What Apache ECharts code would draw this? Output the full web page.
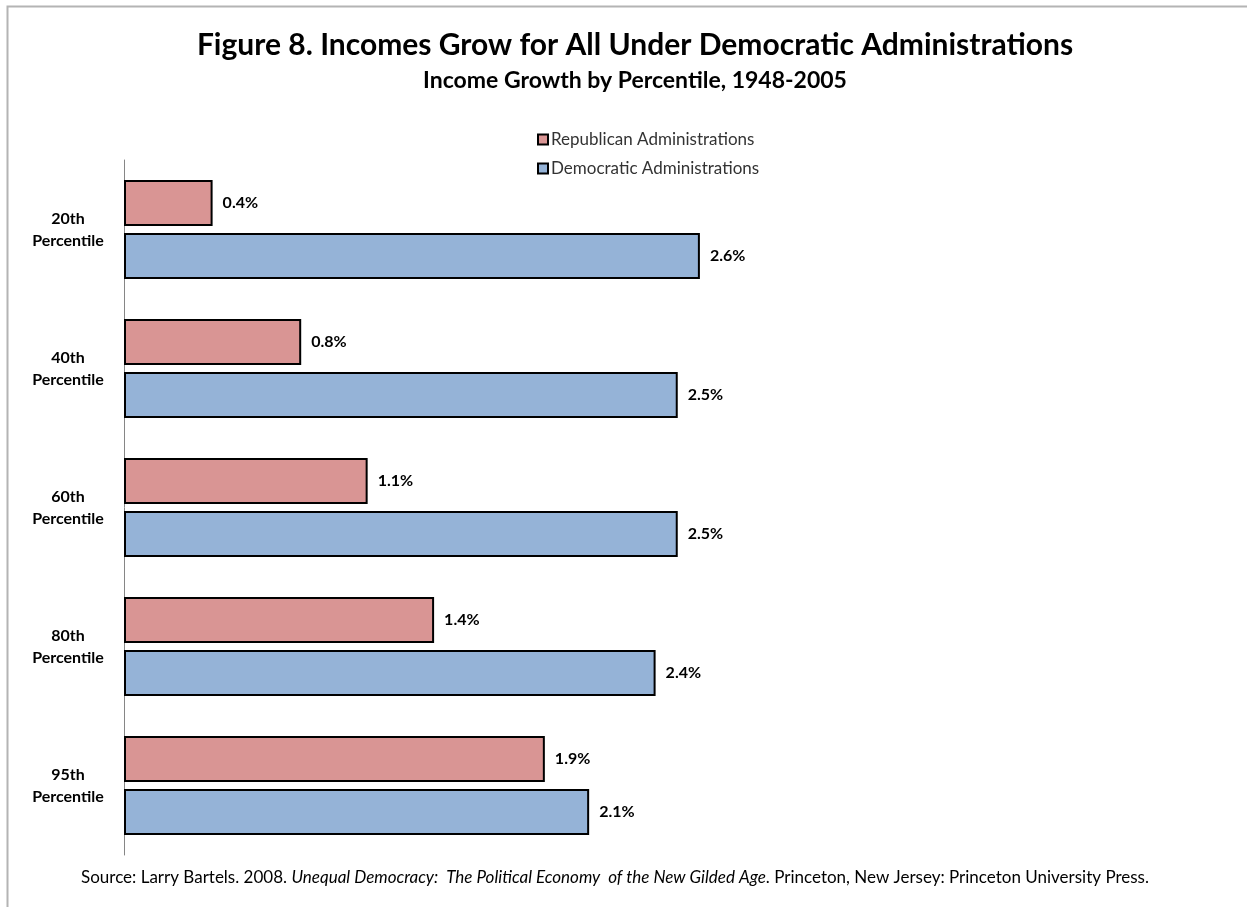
<!DOCTYPE html>
<html>
<head>
<meta charset="utf-8">
<script src="https://cdn.jsdelivr.net/npm/echarts@6/dist/echarts.min.js"></script>
<style>
html,body{margin:0;padding:0;background:#fff;}
#chart{width:1247px;height:907px;}
</style>
</head>
<body>
<div id="chart"></div>
<script>
var categories = ['20th\nPercentile', '40th\nPercentile', '60th\nPercentile', '80th\nPercentile', '95th\nPercentile'];
var republican = [0.4, 0.8, 1.1, 1.4, 1.9];
var democratic = [2.6, 2.5, 2.5, 2.4, 2.1];
var seriesNames = ['Republican Administrations', 'Democratic Administrations'];

var FONT = 'Lato, "Open Sans", sans-serif';
var chart = echarts.init(document.getElementById('chart'));

var labelOpt = {
  show: true,
  position: 'right',
  distance: 10,
  formatter: function (p) { return p.value.toFixed(1) + '%'; },
  fontFamily: FONT,
  fontWeight: 'bold',
  fontSize: 16,
  color: '#000'
};

chart.setOption({
  backgroundColor: '#fff',
  animation: false,
  title: [
    {
      text: 'Figure 8. Incomes Grow for All Under Democratic Administrations',
      left: 630, top: 25, textAlign: 'center',
      textStyle: { fontFamily: FONT, fontWeight: 'bold', fontSize: 30, color: '#000' }
    },
    {
      text: 'Income Growth by Percentile, 1948-2005',
      left: 630, top: 64, textAlign: 'center',
      textStyle: { fontFamily: FONT, fontWeight: 'bold', fontSize: 23, color: '#000' }
    }
  ],
  legend: {
    orient: 'vertical',
    left: 537, top: 131,
    padding: 0,
    itemWidth: 10, itemHeight: 10,
    itemGap: 12,
    icon: 'rect',
    textStyle: { fontFamily: FONT, fontSize: 17, color: '#333', padding: [0, 0, 0, -2] },
    data: seriesNames
  },
  grid: { left: 124, top: 160, width: 886, bottom: 52, containLabel: false },
  xAxis: {
    type: 'value', min: 0, max: 4,
    show: false
  },
  yAxis: {
    type: 'category',
    data: categories,
    inverse: true,
    axisLine: { show: true, lineStyle: { color: '#868686', width: 1 } },
    axisTick: { show: false },
    axisLabel: {
      margin: 56, align: 'center',
      fontFamily: FONT, fontWeight: 'bold', fontSize: 16, lineHeight: 22, color: '#000'
    }
  },
  series: [
    {
      name: seriesNames[0], type: 'bar', data: republican,
      barWidth: 46, barGap: '15%',
      itemStyle: { color: '#D99594', borderColor: '#000', borderWidth: 2 },
      label: labelOpt
    },
    {
      name: seriesNames[1], type: 'bar', data: democratic,
      barWidth: 46, barGap: '15%',
      itemStyle: { color: '#95B3D7', borderColor: '#000', borderWidth: 2 },
      label: labelOpt
    }
  ],
  graphic: [
    {
      type: 'rect', silent: true,
      shape: { x: 7.5, y: 6.5, width: 1400, height: 1000 },
      style: { fill: 'none', stroke: '#b4b4b4', lineWidth: 2 }
    },
    {
      type: 'text', left: 81, top: 869,
      style: {
        text: '{n|Source: Larry Bartels. 2008. }{i|Unequal Democracy:  The Political Economy  of the New Gilded Age}{n|. Princeton, New Jersey: Princeton University Press.}',
        rich: {
          n: { fontFamily: FONT, fontSize: 17, fill: '#000' },
          i: { fontFamily: FONT, fontSize: 17, fontStyle: 'italic', fill: '#000' }
        }
      }
    }
  ]
});
</script>
</body>
</html>
